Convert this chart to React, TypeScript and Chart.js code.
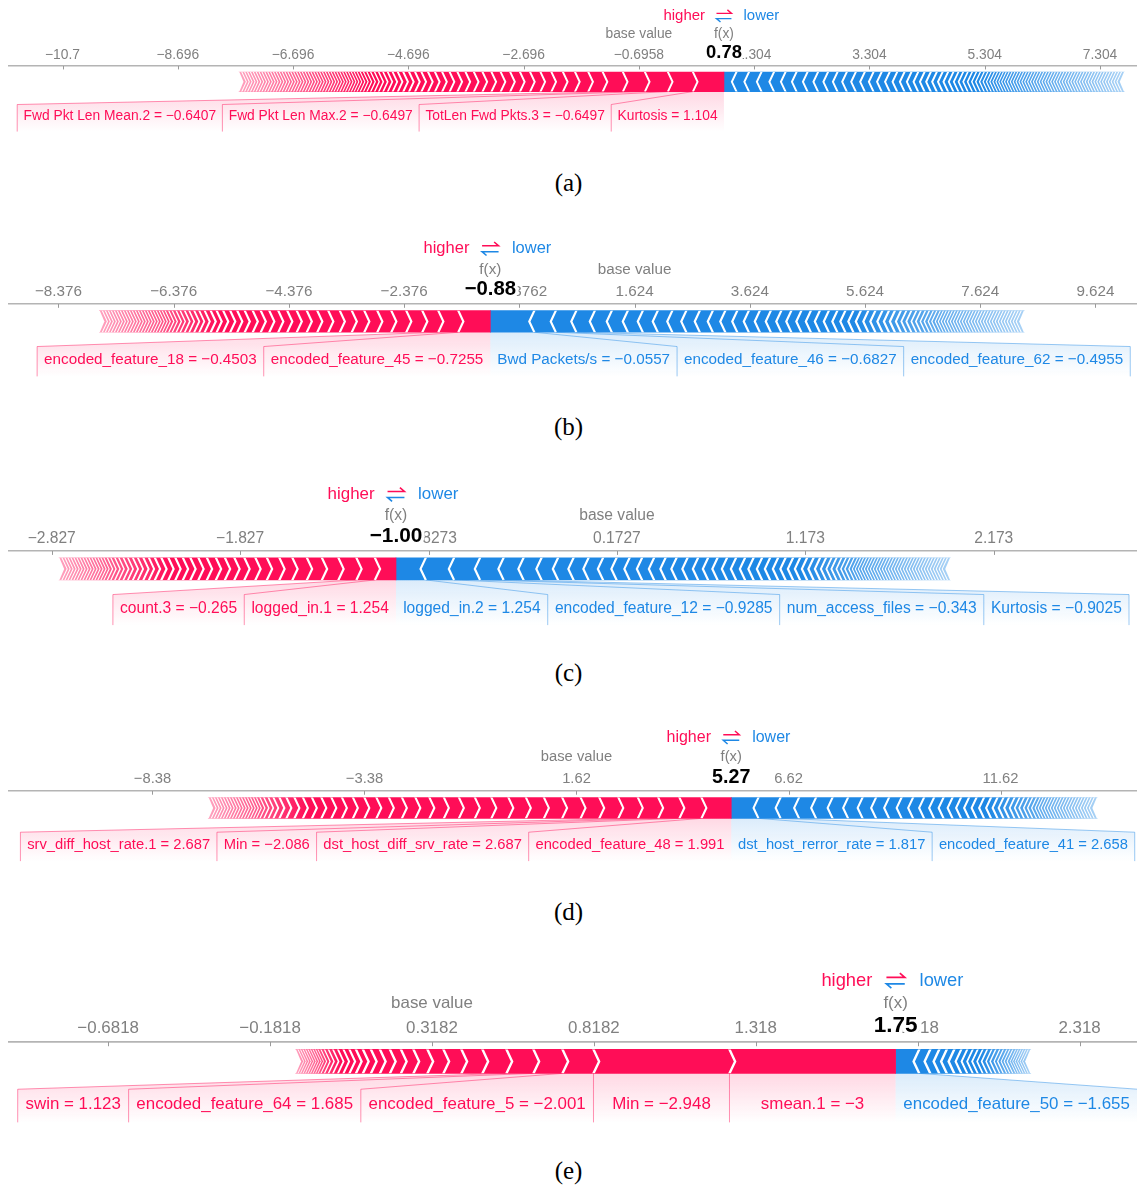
import React, { useEffect, useRef } from "react";
import { Chart, registerables } from "chart.js";

Chart.register(...registerables);

const SANS = "'Liberation Sans', Arial, Helvetica, sans-serif";
const SERIF = "'Liberation Serif', 'Times New Roman', serif";
const RED = [255, 13, 87];
const BLUE = [30, 136, 229];

// ---------- (a) ----------
const A_BASE = -0.6958;
const A_FX = 0.78;
const A_RANGE = [-11.624, 7.946];
const A_TICKS = [-10.6958, -8.6958, -6.6958, -4.6958, -2.6958, -0.6958, 1.3042, 3.3042, 5.3042, 7.3042];
const A_TICK_LABELS = ["−10.7", "−8.696", "−6.696", "−4.696", "−2.696", "−0.6958", "1.304", "3.304", "5.304", "7.304"];
const A_RED_LABELS = ["Kurtosis = 1.104", "TotLen Fwd Pkts.3 = −0.6497", "Fwd Pkt Len Max.2 = −0.6497", "Fwd Pkt Len Mean.2 = −0.6407"];
const A_RED_EFFECTS = [0.538, 0.434, 0.399, 0.382];
const A_RED_TAIL = [
  0.35, 0.25, 0.23, 0.21, 0.2, 0.19, 0.18, 0.175, 0.17, 0.165, 0.16, 0.155, 0.15, 0.145, 0.14, 0.135, 0.13, 0.125,
  0.12, 0.115, 0.11, 0.105, 0.1, 0.095, 0.09, 0.085, 0.08, 0.076, 0.072, 0.068, 0.064, 0.06, 0.057, 0.054, 0.051,
  0.05, 0.05, 0.05, 0.05, 0.05, 0.05, 0.05, 0.05, 0.05, 0.05, 0.05, 0.05, 0.05, 0.05, 0.05, 0.05, 0.05, 0.05, 0.05,
  0.05, 0.05, 0.05, 0.05, 0.05, 0.05, 0.05, 0.05, 0.05, 0.05, 0.05, 0.05, 0.05, 0.05, 0.05, 0.05, 0.05, 0.05, 0.05,
  0.05, 0.05,
];
const A_BLUE_LABELS: string[] = [];
const A_BLUE_EFFECTS: number[] = [];
const A_BLUE_TAIL = [
  0.217, 0.217, 0.217, 0.217, 0.2, 0.191, 0.191, 0.182, 0.173, 0.165, 0.161, 0.156, 0.156, 0.151, 0.142, 0.139, 0.13,
  0.127, 0.121, 0.116, 0.111, 0.108, 0.104, 0.101, 0.095, 0.092, 0.087, 0.083, 0.08, 0.076, 0.073, 0.069, 0.066,
  0.062, 0.059, 0.056, 0.054, 0.052,
  0.05, 0.05, 0.05, 0.05, 0.05, 0.05, 0.05, 0.05, 0.05, 0.05, 0.05, 0.05, 0.05, 0.05, 0.05, 0.05, 0.05, 0.05, 0.05,
  0.05, 0.05, 0.05, 0.05, 0.05, 0.05, 0.05, 0.05, 0.05, 0.05, 0.05, 0.05, 0.05, 0.05, 0.05, 0.05, 0.05, 0.05, 0.05,
  0.05, 0.05, 0.05, 0.05, 0.05,
];

// ---------- (b) ----------
const B_BASE = 1.6238;
const B_FX = -0.88;
const B_RANGE = [-9.235, 10.345];
const B_TICKS = [-8.3762, -6.3762, -4.3762, -2.3762, -0.3762, 1.6238, 3.6238, 5.6238, 7.6238, 9.6238];
const B_TICK_LABELS = ["−8.376", "−6.376", "−4.376", "−2.376", "−0.3762", "1.624", "3.624", "5.624", "7.624", "9.624"];
const B_RED_LABELS = ["encoded_feature_45 = −0.7255", "encoded_feature_18 = −0.4503"];
const B_RED_EFFECTS = [0.556, 0.347];
const B_RED_TAIL = [
  0.278, 0.278, 0.26, 0.243, 0.226, 0.217, 0.208, 0.2, 0.191, 0.182, 0.174, 0.165, 0.156, 0.156, 0.148, 0.139, 0.139,
  0.13, 0.122, 0.122, 0.113, 0.104, 0.104, 0.095, 0.087, 0.087, 0.078, 0.078, 0.069, 0.069, 0.061, 0.061,
  0.052, 0.052, 0.052, 0.052, 0.052, 0.052, 0.052, 0.052, 0.052, 0.052, 0.052, 0.052, 0.052, 0.052, 0.052, 0.052,
  0.052, 0.052, 0.052, 0.052, 0.052, 0.052,
];
const B_BLUE_LABELS = ["Bwd Packets/s = −0.0557", "encoded_feature_46 = −0.6827", "encoded_feature_62 = −0.4955"];
const B_BLUE_EFFECTS = [0.764, 0.373, 0.356];
const B_BLUE_TAIL = [
  0.321, 0.295, 0.278, 0.26, 0.26, 0.252, 0.243, 0.234, 0.226, 0.217, 0.208, 0.2, 0.191, 0.191, 0.182, 0.174, 0.174,
  0.165, 0.156, 0.156, 0.148, 0.139, 0.139, 0.13, 0.13, 0.122, 0.122, 0.113, 0.104, 0.104, 0.095, 0.087, 0.087,
  0.078, 0.078, 0.069, 0.069, 0.061, 0.061,
  0.052, 0.052, 0.052, 0.052, 0.052, 0.052, 0.052, 0.052, 0.052, 0.052, 0.052, 0.052, 0.052, 0.052, 0.052, 0.052,
  0.052, 0.052, 0.052, 0.052, 0.052, 0.052, 0.052, 0.052, 0.052, 0.052, 0.052, 0.052,
];

// ---------- (c) ----------
const C_BASE = 0.1727;
const C_FX = -1.0;
const C_RANGE = [-3.054, 2.933];
const C_TICKS = [-2.8273, -1.8273, -0.8273, 0.1727, 1.1727, 2.1727];
const C_TICK_LABELS = ["−2.827", "−1.827", "−0.8273", "0.1727", "1.173", "2.173"];
const C_RED_LABELS = ["logged_in.1 = 1.254", "count.3 = −0.265"];
const C_RED_EFFECTS = [0.112, 0.098];
const C_RED_TAIL = [
  0.0955, 0.0876, 0.0796, 0.077, 0.069, 0.0663, 0.061, 0.0584, 0.0531, 0.0504, 0.0478, 0.0478, 0.0451, 0.0425,
  0.0398, 0.0398, 0.0372, 0.0372, 0.0345, 0.0318, 0.0292, 0.0292, 0.0265, 0.0265, 0.0239, 0.0239, 0.0212, 0.0212,
  0.0186, 0.0186,
  0.0159, 0.0159, 0.0159, 0.0159, 0.0159, 0.0159, 0.0159, 0.0159, 0.0159, 0.0159, 0.0159, 0.0159, 0.0159, 0.0159,
  0.0159,
];
const C_BLUE_LABELS = ["logged_in.2 = 1.254", "encoded_feature_12 = −0.9285", "num_access_files = −0.343", "Kurtosis = −0.9025"];
const C_BLUE_EFFECTS = [0.158, 0.15, 0.138, 0.125];
const C_BLUE_TAIL = [
  0.106, 0.0955, 0.0876, 0.0823, 0.0796, 0.077, 0.0717, 0.069, 0.0663, 0.0637, 0.061, 0.0584, 0.0584, 0.0557,
  0.0531, 0.0504, 0.0504, 0.0478, 0.0478, 0.0451, 0.0451, 0.0425, 0.0425, 0.0398, 0.0398, 0.0372, 0.0372, 0.0345,
  0.0345, 0.0318, 0.0292, 0.0265, 0.0265, 0.0239, 0.0212, 0.0212, 0.0186,
  0.0159, 0.0159, 0.0159, 0.0159, 0.0159, 0.0159, 0.0159, 0.0159, 0.0159, 0.0159, 0.0159, 0.0159, 0.0159, 0.0159,
  0.0159, 0.0159, 0.0159, 0.0159, 0.0159, 0.0159, 0.0159, 0.0159, 0.0159, 0.0159, 0.0159, 0.0159, 0.0159, 0.0159,
  0.0159, 0.0159, 0.0159,
];

// ---------- (d) ----------
const D_BASE = 1.62;
const D_FX = 5.27;
const D_RANGE = [-11.764, 14.839];
const D_TICKS = [-8.38, -3.38, 1.62, 6.62, 11.62];
const D_TICK_LABELS = ["−8.38", "−3.38", "1.62", "6.62", "11.62"];
const D_RED_LABELS = ["encoded_feature_48 = 1.991", "dst_host_diff_srv_rate = 2.687", "Min = −2.086", "srv_diff_host_rate.1 = 2.687"];
const D_RED_EFFECTS = [0.703, 0.52, 0.5, 0.48];
const D_RED_TAIL = [
  0.46, 0.45, 0.44, 0.435, 0.43, 0.425, 0.413, 0.401, 0.389, 0.377, 0.354, 0.342, 0.33, 0.318, 0.307, 0.295, 0.283,
  0.271, 0.259, 0.248, 0.236, 0.224, 0.212, 0.2, 0.189, 0.165, 0.142, 0.118, 0.106, 0.094, 0.083,
  0.071, 0.071, 0.071, 0.071, 0.071, 0.071, 0.071, 0.071, 0.071, 0.071, 0.071, 0.071, 0.071, 0.071, 0.071, 0.071,
];
const D_BLUE_LABELS = ["dst_host_rerror_rate = 1.817", "encoded_feature_41 = 2.658"];
const D_BLUE_EFFECTS = [0.642, 0.521];
const D_BLUE_TAIL = [
  0.436, 0.401, 0.389, 0.366, 0.342, 0.318, 0.307, 0.295, 0.271, 0.259, 0.236, 0.224, 0.212, 0.2, 0.189, 0.177,
  0.177, 0.165, 0.153, 0.142, 0.13, 0.13, 0.118, 0.106, 0.106, 0.094, 0.094, 0.083,
  0.071, 0.071, 0.071, 0.071, 0.071, 0.071, 0.071, 0.071, 0.071, 0.071, 0.071, 0.071, 0.071, 0.071, 0.071, 0.071,
  0.071, 0.071, 0.071,
];

// ---------- (e) ----------
const E_BASE = 0.3182;
const E_FX = 1.75;
const E_RANGE = [-0.988, 2.4955];
const E_TICKS = [-0.6818, -0.1818, 0.3182, 0.8182, 1.3182, 1.8182, 2.3182];
const E_TICK_LABELS = ["−0.6818", "−0.1818", "0.3182", "0.8182", "1.318", "1.818", "2.318"];
const E_RED_LABELS = ["smean.1 = −3", "Min = −2.948", "encoded_feature_5 = −2.001", "encoded_feature_64 = 1.685", "swin = 1.123"];
const E_RED_EFFECTS = [0.513, 0.42, 0.0957, 0.0896, 0.0834];
const E_RED_TAIL = [
  0.0741, 0.0649, 0.0556, 0.0494, 0.0432, 0.0386, 0.034, 0.0309, 0.0278, 0.0247, 0.0216, 0.0201, 0.0185, 0.017,
  0.0154, 0.0139, 0.0124, 0.0108, 0.0093,
  0.0077, 0.0077, 0.0077, 0.0077, 0.0077, 0.0077, 0.0077, 0.0077, 0.0077,
];
const E_BLUE_LABELS = ["encoded_feature_50 = −1.655"];
const E_BLUE_EFFECTS = [0.073];
const E_BLUE_TAIL = [
  0.034, 0.0278, 0.0232, 0.0232, 0.0216, 0.0185, 0.017, 0.0154, 0.0154, 0.0139, 0.0139, 0.0124, 0.0124, 0.0108,
  0.0108, 0.0093, 0.0093, 0.0093,
  0.0077, 0.0077, 0.0077, 0.0077, 0.0077, 0.0077,
];

const PANELS = [
  { caption: "(a)", base: A_BASE, fx: A_FX, range: A_RANGE, ticks: A_TICKS, tickLabels: A_TICK_LABELS, redLabels: A_RED_LABELS, redEffects: A_RED_EFFECTS, redTail: A_RED_TAIL, blueLabels: A_BLUE_LABELS, blueEffects: A_BLUE_EFFECTS, blueTail: A_BLUE_TAIL },
  { caption: "(b)", base: B_BASE, fx: B_FX, range: B_RANGE, ticks: B_TICKS, tickLabels: B_TICK_LABELS, redLabels: B_RED_LABELS, redEffects: B_RED_EFFECTS, redTail: B_RED_TAIL, blueLabels: B_BLUE_LABELS, blueEffects: B_BLUE_EFFECTS, blueTail: B_BLUE_TAIL },
  { caption: "(c)", base: C_BASE, fx: C_FX, range: C_RANGE, ticks: C_TICKS, tickLabels: C_TICK_LABELS, redLabels: C_RED_LABELS, redEffects: C_RED_EFFECTS, redTail: C_RED_TAIL, blueLabels: C_BLUE_LABELS, blueEffects: C_BLUE_EFFECTS, blueTail: C_BLUE_TAIL },
  { caption: "(d)", base: D_BASE, fx: D_FX, range: D_RANGE, ticks: D_TICKS, tickLabels: D_TICK_LABELS, redLabels: D_RED_LABELS, redEffects: D_RED_EFFECTS, redTail: D_RED_TAIL, blueLabels: D_BLUE_LABELS, blueEffects: D_BLUE_EFFECTS, blueTail: D_BLUE_TAIL },
  { caption: "(e)", base: E_BASE, fx: E_FX, range: E_RANGE, ticks: E_TICKS, tickLabels: E_TICK_LABELS, redLabels: E_RED_LABELS, redEffects: E_RED_EFFECTS, redTail: E_RED_TAIL, blueLabels: E_BLUE_LABELS, blueEffects: E_BLUE_EFFECTS, blueTail: E_BLUE_TAIL },
];

// Page placement and sizing of each force plot
const LOOKS = [
  { axisY: 66, scale: 1.15, captionY: 183, fadeRed: 130, fadeBlue: 150 },
  { axisY: 304, scale: 1.27, captionY: 427, fadeRed: 120, fadeBlue: 170 },
  { axisY: 550.7, scale: 1.3, captionY: 673, fadeRed: 110, fadeBlue: 150 },
  { axisY: 790.7, scale: 1.23, captionY: 912, fadeRed: 100, fadeBlue: 110 },
  { axisY: 1041.7, scale: 1.41, captionY: 1171, fadeRed: 45, fadeBlue: 50 },
];

const rgba = (c: number[], a: number) => `rgba(${c[0]},${c[1]},${c[2]},${a})`;
const total = (a: number[]) => a.reduce((t, v) => t + v, 0);
const fmtFx = (v: number) => (v < 0 ? "\u2212" : "") + Math.abs(v).toFixed(2);

function fadeFill(chart: any, tailValue: number, fxValue: number, color: number[], fadePx: number) {
  const xs = chart.scales && chart.scales.x;
  if (!xs || !chart.chartArea) return rgba(color, 1);
  const xt = xs.getPixelForValue(tailValue);
  const xf = xs.getPixelForValue(fxValue);
  if (!isFinite(xt) || !isFinite(xf) || Math.abs(xf - xt) < 1) return rgba(color, 1);
  const g = chart.ctx.createLinearGradient(xt, 0, xf, 0);
  const f = Math.min(1, fadePx / Math.abs(xf - xt));
  g.addColorStop(0, rgba(color, 0.38));
  g.addColorStop(f, rgba(color, 1));
  g.addColorStop(1, rgba(color, 1));
  return g;
}

// White chevron separators between neighbouring feature blocks.
// dir = -1 walks left from f(x) (red, chevrons point right),
// dir = +1 walks right from f(x) (blue, chevrons point left).
function drawSeparators(ctx: any, xs: any, fx: number, effects: number[], dir: number, top: number, bot: number, yc: number, s: number) {
  const pt = 4 * s;
  const k = pt / ((bot - top) / 2);
  let v = fx;
  const edges: number[] = [xs.getPixelForValue(v)];
  effects.forEach((e) => {
    v += dir * e;
    edges.push(xs.getPixelForValue(v));
  });
  for (let i = 1; i < edges.length - 1; i++) {
    const b = edges[i];
    const w = Math.min(Math.abs(edges[i] - edges[i - 1]), Math.abs(edges[i + 1] - edges[i]));
    ctx.lineWidth = Math.min(1.7 * s, Math.max(0.75, 0.36 * w));
    ctx.beginPath();
    ctx.moveTo(b + dir * 2 * k, top - 2);
    ctx.lineTo(b - dir * pt, yc);
    ctx.lineTo(b + dir * 2 * k, bot + 2);
    ctx.stroke();
  }
  // notch at the far end of the tail
  const e = edges[edges.length - 1];
  ctx.beginPath();
  ctx.moveTo(e + dir * 3, top - 1);
  ctx.lineTo(e, top - 1);
  ctx.lineTo(e - dir * pt, yc);
  ctx.lineTo(e, bot + 1);
  ctx.lineTo(e + dir * 3, bot + 1);
  ctx.closePath();
  ctx.fill();
}

function makeForcePlugin(panel: any, look: any, red: number[], blue: number[]) {
  const s = look.scale;
  return {
    id: "forceMarks",
    afterDatasetsDraw(chart: any) {
      const ctx = chart.ctx;
      const xs = chart.scales.x;
      const bar = chart.getDatasetMeta(0).data[0];
      const yc = bar.y;
      const h = bar.height;
      const top = yc - h / 2;
      const bot = yc + h / 2;
      ctx.save();
      ctx.beginPath();
      ctx.rect(0, top, chart.width, h);
      ctx.clip();
      ctx.strokeStyle = "#fff";
      ctx.fillStyle = "#fff";
      ctx.lineJoin = "miter";
      drawSeparators(ctx, xs, panel.fx, red, -1, top, bot, yc, s);
      drawSeparators(ctx, xs, panel.fx, blue, 1, top, bot, yc, s);
      ctx.restore();
    },
    afterDraw(chart: any) {
      const ctx = chart.ctx;
      const xs = chart.scales.x;
      const axis = chart.chartArea.top;
      const bar = chart.getDatasetMeta(0).data[0];
      const bot = bar.y + bar.height / 2;
      const boxTop = axis + 33.5 * s;
      const boxBot = axis + 57 * s;
      const textY = axis + 44 * s;
      const pad = 5.5 * s;
      const fxPx = xs.getPixelForValue(panel.fx);
      const basePx = xs.getPixelForValue(panel.base);

      ctx.save();
      // tick marks below the axis line
      ctx.strokeStyle = "#9a9a9a";
      ctx.lineWidth = 1;
      xs.ticks.forEach((t: any) => {
        const px = Math.round(xs.getPixelForValue(t.value)) + 0.5;
        ctx.beginPath();
        ctx.moveTo(px, axis);
        ctx.lineTo(px, axis + 3 * s);
        ctx.stroke();
      });

      // label layout
      ctx.font = `${12 * s}px ${SANS}`;
      const boxes: any[] = [];
      let prev = fxPx;
      let v = panel.fx;
      panel.redLabels.forEach((name: string, i: number) => {
        const segR = xs.getPixelForValue(v);
        v -= panel.redEffects[i];
        const segL = xs.getPixelForValue(v);
        const tw = ctx.measureText(name).width + 2 * pad;
        const boxR = Math.min(prev, segR);
        const boxL = Math.min(segL, boxR - tw);
        boxes.push({ name, segL, segR, boxL, boxR, color: RED, red: true });
        prev = boxL;
      });
      prev = fxPx;
      v = panel.fx;
      panel.blueLabels.forEach((name: string, i: number) => {
        const segL = xs.getPixelForValue(v);
        v += panel.blueEffects[i];
        const segR = xs.getPixelForValue(v);
        const tw = ctx.measureText(name).width + 2 * pad;
        const boxL = Math.max(prev, segL);
        const boxR = Math.max(segR, boxL + tw);
        boxes.push({ name, segL, segR, boxL, boxR, color: BLUE, red: false });
        prev = boxR;
      });

      // label backgrounds
      boxes.forEach((b) => {
        const g = ctx.createLinearGradient(0, bot, 0, boxBot);
        g.addColorStop(0, rgba(b.color, 0.16));
        g.addColorStop(1, rgba(b.color, 0));
        ctx.fillStyle = g;
        ctx.beginPath();
        ctx.moveTo(b.segL, bot);
        ctx.lineTo(b.segR, bot);
        ctx.lineTo(b.boxR, boxTop);
        ctx.lineTo(b.boxR, boxBot);
        ctx.lineTo(b.boxL, boxBot);
        ctx.lineTo(b.boxL, boxTop);
        ctx.closePath();
        ctx.fill();
      });
      // links from the bar to the label edges
      ctx.lineWidth = 1;
      boxes.forEach((b) => {
        ctx.strokeStyle = rgba(b.color, 0.45);
        const sx = b.red ? b.segL : b.segR;
        const ex = b.red ? b.boxL : b.boxR;
        ctx.beginPath();
        ctx.moveTo(sx, bot);
        ctx.lineTo(ex, boxTop);
        ctx.lineTo(ex, boxBot);
        ctx.stroke();
      });
      // label texts
      ctx.textAlign = "center";
      ctx.textBaseline = "middle";
      boxes.forEach((b) => {
        ctx.fillStyle = rgba(b.color, 1);
        ctx.fillText(b.name, (b.boxL + b.boxR) / 2, textY);
      });

      // base value / f(x) captions
      ctx.fillStyle = "#808080";
      ctx.fillText("base value", basePx, axis - 27.3 * s);
      ctx.fillText("f(x)", fxPx, axis - 27.3 * s);

      // f(x) value
      ctx.font = `bold ${16 * s}px ${SANS}`;
      ctx.lineJoin = "round";
      ctx.strokeStyle = "#fff";
      ctx.lineWidth = 5 * s;
      ctx.strokeText(fmtFx(panel.fx), fxPx, axis - 11.2 * s);
      ctx.fillStyle = "#000";
      ctx.fillText(fmtFx(panel.fx), fxPx, axis - 11.2 * s);

      // higher / lower legend
      const hy = axis - 43.5 * s;
      ctx.font = `${13 * s}px ${SANS}`;
      ctx.textAlign = "right";
      ctx.fillStyle = rgba(RED, 1);
      ctx.fillText("higher", fxPx - 16.5 * s, hy);
      ctx.textAlign = "left";
      ctx.fillStyle = rgba(BLUE, 1);
      ctx.fillText("lower", fxPx + 17 * s, hy);
      const aw = 6.5 * s;
      ctx.lineWidth = 1.2 * s;
      ctx.lineJoin = "miter";
      ctx.strokeStyle = rgba(RED, 1);
      ctx.beginPath();
      ctx.moveTo(fxPx - aw, hy - 2.3 * s);
      ctx.lineTo(fxPx + aw, hy - 2.3 * s);
      ctx.lineTo(fxPx + aw - 3.5 * s, hy - 5.3 * s);
      ctx.stroke();
      ctx.strokeStyle = rgba(BLUE, 1);
      ctx.beginPath();
      ctx.moveTo(fxPx + aw, hy + 2.3 * s);
      ctx.lineTo(fxPx - aw, hy + 2.3 * s);
      ctx.lineTo(fxPx - aw + 3.5 * s, hy + 5.3 * s);
      ctx.stroke();
      ctx.restore();
    },
  };
}

function ForcePanel({ panel, look }: { panel: any; look: any }) {
  const ref = useRef<HTMLCanvasElement | null>(null);
  const s = look.scale;
  const axisTop = Math.round(56 * s);
  const height = Math.round(125 * s);
  const top = look.axisY - axisTop;

  useEffect(() => {
    const canvas = ref.current;
    if (!canvas) return;
    const red = [...panel.redEffects, ...panel.redTail];
    const blue = [...panel.blueEffects, ...panel.blueTail];
    const redStart = panel.fx - total(red);
    const blueEnd = panel.fx + total(blue);
    const band = 27.5 * s;
    const chart = new Chart(canvas, {
      type: "bar",
      data: {
        labels: ["f(x)"],
        datasets: [
          {
            label: "higher",
            data: [[redStart, panel.fx]],
            backgroundColor: (c: any) => fadeFill(c.chart, redStart, panel.fx, RED, look.fadeRed),
            borderWidth: 0,
            grouped: false,
            barThickness: 17 * s,
          },
          {
            label: "lower",
            data: [[panel.fx, blueEnd]],
            backgroundColor: (c: any) => fadeFill(c.chart, blueEnd, panel.fx, BLUE, look.fadeBlue),
            borderWidth: 0,
            grouped: false,
            barThickness: 17 * s,
          },
        ],
      } as any,
      options: {
        indexAxis: "y",
        responsive: false,
        maintainAspectRatio: false,
        animation: false,
        devicePixelRatio: 1,
        events: [],
        layout: { padding: { left: 9, right: 0, top: 0, bottom: height - axisTop - band } },
        plugins: { legend: { display: false }, tooltip: { enabled: false } },
        scales: {
          x: {
            type: "linear",
            position: "top",
            min: panel.range[0],
            max: panel.range[1],
            afterFit: (sc: any) => {
              sc.height = axisTop;
            },
            afterBuildTicks: (sc: any) => {
              sc.ticks = panel.ticks.map((t: number) => ({ value: t }));
            },
            ticks: {
              autoSkip: false,
              maxRotation: 0,
              minRotation: 0,
              padding: 2.3 * s,
              color: "#808080",
              font: { family: SANS, size: 12 * s },
              callback: (_v: any, i: number) => panel.tickLabels[i],
            },
            grid: { display: false, drawTicks: false },
            border: { display: true, color: "#b4b4b4", width: 1.2 * s },
          },
          y: { display: false },
        },
      } as any,
      plugins: [makeForcePlugin(panel, look, red, blue)],
    });
    return () => chart.destroy();
  }, [panel, look]);

  return (
    <canvas
      ref={ref}
      width={1137}
      height={height}
      style={{ position: "absolute", left: 0, top, width: 1137, height, display: "block" }}
    />
  );
}

export default function App() {
  return (
    <div
      style={{
        position: "absolute",
        left: 0,
        top: 0,
        width: 1137,
        height: 1185,
        overflow: "hidden",
        background: "#fff",
      }}
    >
      {PANELS.map((p, i) => (
        <React.Fragment key={p.caption}>
          <ForcePanel panel={p} look={LOOKS[i]} />
          <div
            style={{
              position: "absolute",
              left: 0,
              top: LOOKS[i].captionY - 14,
              width: 1137,
              textAlign: "center",
              fontFamily: SERIF,
              fontSize: 25,
              lineHeight: "28px",
              color: "#000",
            }}
          >
            {p.caption}
          </div>
        </React.Fragment>
      ))}
    </div>
  );
}
